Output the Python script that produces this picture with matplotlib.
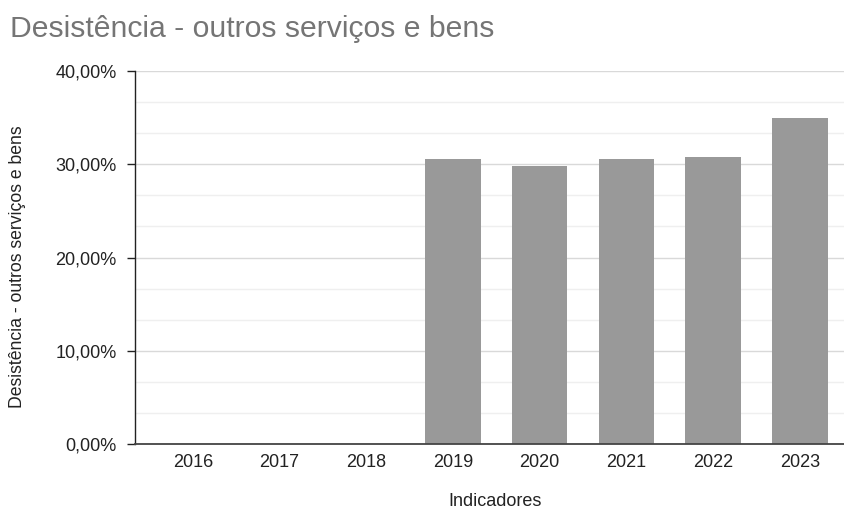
import matplotlib
matplotlib.use("Agg")
import matplotlib.pyplot as plt
from matplotlib.ticker import MultipleLocator, FuncFormatter

# dados: percentual de desistência por ano
anos = ["2016", "2017", "2018", "2019", "2020", "2021", "2022", "2023"]
desistencia = [0, 0, 0, 30.61, 29.86, 30.61, 30.79, 34.98]

titulo = "Desistência - outros serviços e bens"
rotulo_y = "Desistência - outros serviços e bens"
rotulo_x = "Indicadores"

plt.rcParams['font.family'] = ['Liberation Sans', 'DejaVu Sans']

fig = plt.figure(figsize=(8.45, 5.13), dpi=100)
ax = fig.add_axes([0.1594, 0.1351, 0.8406, 0.7259])

pos = list(range(len(anos)))
ax.bar(pos, desistencia, width=0.64, color="#999999", zorder=3)

ax.set_xlim(-0.67, 7.52)
ax.set_ylim(0, 40)
ax.set_xticks(pos)
ax.set_xticklabels(anos)

# grade principal a cada 10% e secundária em terços
ax.yaxis.set_major_locator(MultipleLocator(10))
ax.yaxis.set_minor_locator(MultipleLocator(10 / 3))
ax.yaxis.set_major_formatter(FuncFormatter(lambda v, p: f"{v:.2f}%".replace(".", ",")))
ax.grid(axis="y", which="major", color="#d9d9d9", linewidth=1, zorder=0)
ax.grid(axis="y", which="minor", color="#efefef", linewidth=1, zorder=0)

for s in ["top", "right"]:
    ax.spines[s].set_visible(False)
ax.spines["left"].set_color("#222222")
ax.spines["left"].set_linewidth(1)
ax.spines["bottom"].set_color("#444444")
ax.spines["bottom"].set_linewidth(1.3)
ax.spines["bottom"].set_zorder(4)

ax.tick_params(axis="y", which="major", length=6, width=1, color="#222222",
               pad=7, labelsize=13, labelcolor="#222222")
ax.tick_params(axis="y", which="minor", length=0)
ax.tick_params(axis="x", length=0, pad=7.5, labelsize=13, labelcolor="#222222")

fig.text(10 / 845, 1 - 37 / 513, titulo, fontsize=21.7, color="#757575", va="baseline")
fig.text(18 / 845, 1 - 267 / 513, rotulo_y, rotation=90, fontsize=12.7,
         color="#222222", ha="center", va="center")
fig.text(495 / 845, 1 - 502 / 513, rotulo_x, fontsize=13, color="#222222",
         ha="center", va="center")

fig.savefig("out.png", dpi=100)
